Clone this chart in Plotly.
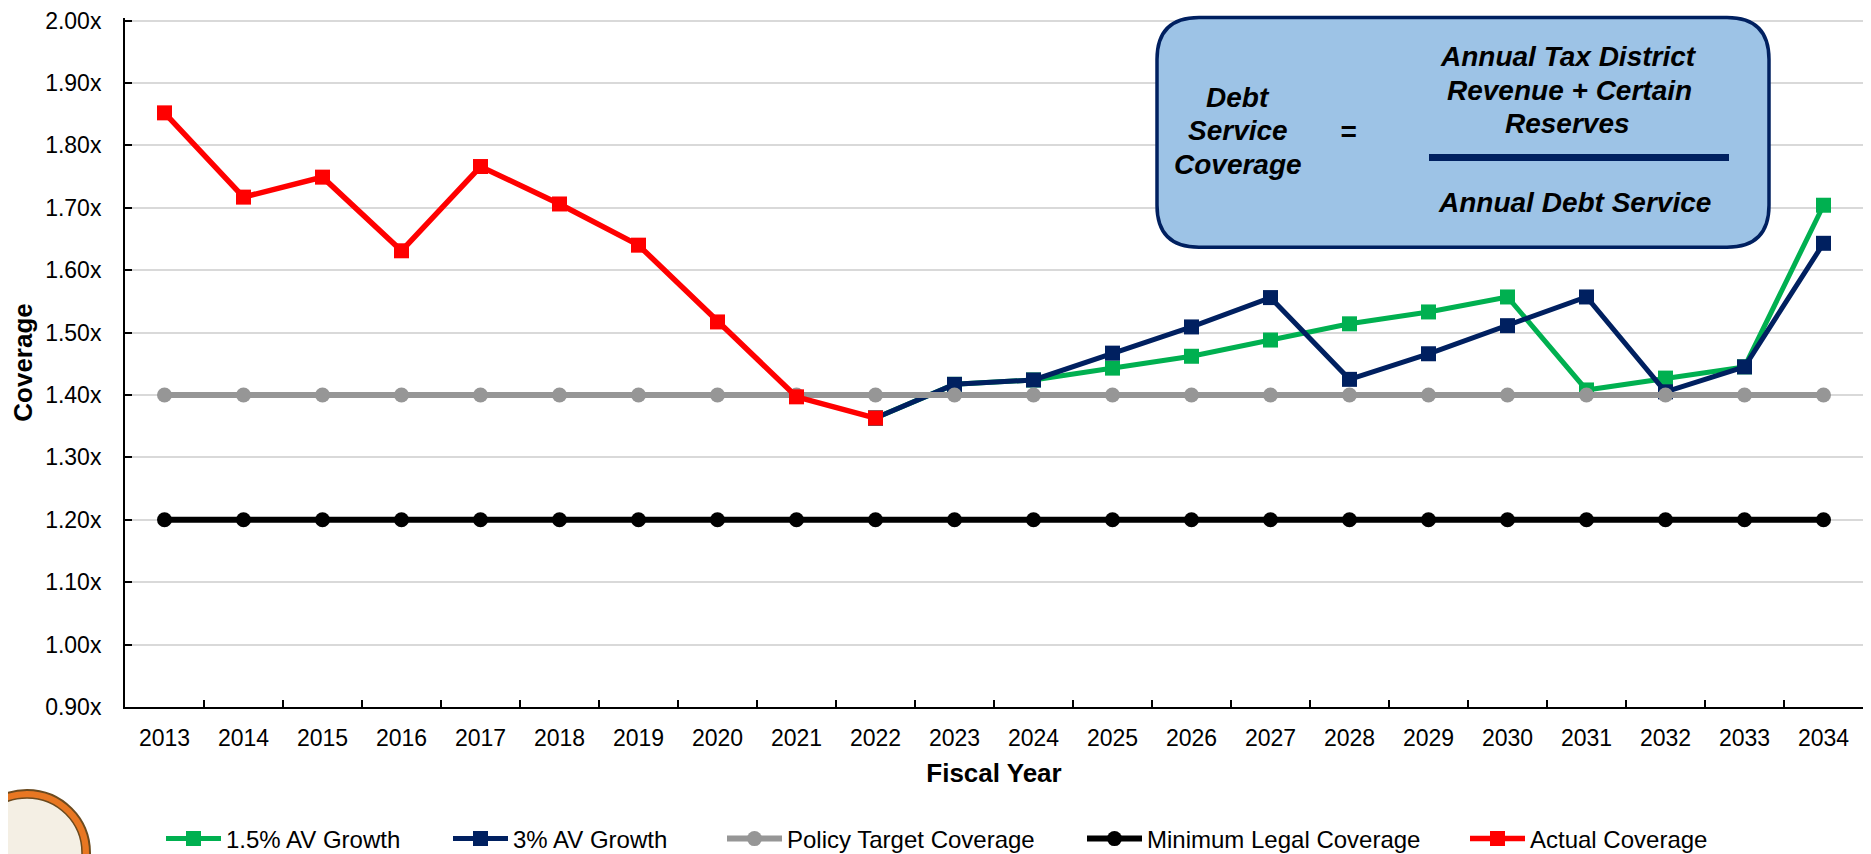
import plotly.graph_objects as go

years = ["2013", "2014", "2015", "2016", "2017", "2018", "2019", "2020", "2021", "2022", "2023",
         "2024", "2025", "2026", "2027", "2028", "2029", "2030", "2031", "2032", "2033", "2034"]

growth_15 = [None, None, None, None, None, None, None, None, None,
             1.363, 1.417, 1.424, 1.443, 1.462, 1.488, 1.514, 1.533, 1.557, 1.408, 1.427, 1.445, 1.704]
growth_3 = [None, None, None, None, None, None, None, None, None,
            1.363, 1.417, 1.424, 1.467, 1.509, 1.556, 1.425, 1.466, 1.511, 1.557, 1.405, 1.445, 1.643]
policy_target = [1.40, 1.40, 1.40, 1.40, 1.40, 1.40, 1.40, 1.40, 1.40, 1.40, 1.40,
                 1.40, 1.40, 1.40, 1.40, 1.40, 1.40, 1.40, 1.40, 1.40, 1.40, 1.40]
minimum_legal = [1.20, 1.20, 1.20, 1.20, 1.20, 1.20, 1.20, 1.20, 1.20, 1.20, 1.20,
                 1.20, 1.20, 1.20, 1.20, 1.20, 1.20, 1.20, 1.20, 1.20, 1.20, 1.20]
actual = [1.852, 1.717, 1.749, 1.631, 1.766, 1.706, 1.640, 1.517, 1.397, 1.363,
          None, None, None, None, None, None, None, None, None, None, None, None]

y_ticks = [0.9, 1.0, 1.1, 1.2, 1.3, 1.4, 1.5, 1.6, 1.7, 1.8, 1.9, 2.0]
y_ticktext = ["0.90x", "1.00x", "1.10x", "1.20x", "1.30x", "1.40x",
              "1.50x", "1.60x", "1.70x", "1.80x", "1.90x", "2.00x"]

FONT = "Liberation Sans, Arial, sans-serif"

# the page body has an 8px margin, so the figure is made 8px smaller and
# everything below is laid out in screen pixels of the 1871x854 window
PAGE = 8
WIDTH, HEIGHT = 1871 - PAGE, 854 - PAGE
# y range runs a hair past 2.0 so plotly keeps the top gridline
Y_MAX = 2.004
PLOT_L, PLOT_R, PLOT_T, PLOT_B = 125, 1863, 17.5, 707


def px(x):
    return (x - PLOT_L) / (PLOT_R - PLOT_L)


def py(y):
    return (PLOT_B - y) / (PLOT_B - PLOT_T)


series = [
    ("1.5% AV Growth", growth_15, "#00B050", "square", 5, "legend2", 167),
    ("3% AV Growth", growth_3, "#002060", "square", 5, "legend3", 454),
    ("Policy Target Coverage", policy_target, "#969696", "circle", 6, "legend4", 728),
    ("Minimum Legal Coverage", minimum_legal, "#000000", "circle", 6, "legend5", 1088),
    ("Actual Coverage", actual, "#FF0000", "square", 5.5, "legend6", 1471),
]

fig = go.Figure()
for name, vals, color, sym, lw, leg, _ in series:
    fig.add_trace(go.Scatter(
        x=years, y=vals, name=name, mode="lines+markers",
        line=dict(color=color, width=lw),
        marker=dict(symbol=sym, size=15, color=color),
        legend=leg, hoverinfo="skip",
    ))

# one small legend per series so each entry sits where it does in the original
legends = {}
for name, vals, color, sym, lw, leg, xpos in series:
    legends[leg] = dict(
        x=(xpos - 6 - PAGE) / WIDTH, y=1 - (839 - PAGE) / HEIGHT,
        xref="container", yref="container",
        xanchor="left", yanchor="middle",
        orientation="h", itemwidth=55, bgcolor="rgba(0,0,0,0)",
        font=dict(family=FONT, size=24, color="#000000"),
    )

shapes = []
# rounded formula box
x0, x1, y0, y1 = px(1157), px(1769), py(247), py(17)
rx, ry = 42 / (PLOT_R - PLOT_L), 42 / (PLOT_B - PLOT_T)
path = (f"M{x0 + rx},{y1} L{x1 - rx},{y1} Q{x1},{y1} {x1},{y1 - ry} "
        f"L{x1},{y0 + ry} Q{x1},{y0} {x1 - rx},{y0} L{x0 + rx},{y0} "
        f"Q{x0},{y0} {x0},{y0 + ry} L{x0},{y1 - ry} Q{x0},{y1} {x0 + rx},{y1} Z")
shapes.append(dict(type="path", path=path, xref="paper", yref="paper",
                   fillcolor="#9DC3E6", line=dict(color="#002060", width=3.5)))
shapes.append(dict(type="line", xref="paper", yref="paper",
                   x0=px(1429), x1=px(1729), y0=py(157), y1=py(157),
                   line=dict(color="#002060", width=7)))
# seal (approximation)
shapes.append(dict(type="circle", xref="paper", yref="paper",
                   x0=px(-36), x1=px(90), y0=py(916), y1=py(790),
                   fillcolor="#E87722", line=dict(color="#6b4a1e", width=2)))
shapes.append(dict(type="circle", xref="paper", yref="paper",
                   x0=px(-28), x1=px(82), y0=py(908), y1=py(798),
                   fillcolor="#f4efe4", line=dict(color="#6b4a1e", width=1.5)))

box_font = dict(family=FONT, size=28, color="#000000")
box_text = [
    ("Debt", 1238, 97), ("Service", 1238, 130), ("Coverage", 1238, 164),
    ("=", 1348, 131),
    ("Annual Tax District", 1568, 56), ("Revenue + Certain", 1569, 90),
    ("Reserves", 1567, 123), ("Annual Debt Service", 1574, 202),
]
annotations = []
for txt, x, y in box_text:
    annotations.append(dict(text=f"<b><i>{txt}</i></b>", x=px(x), y=py(y), xref="paper", yref="paper",
                            showarrow=False, xanchor="center", yanchor="middle", font=box_font))

fig.update_layout(
    width=WIDTH, height=HEIGHT,
    margin=dict(l=PLOT_L - PAGE, r=1871 - PLOT_R, t=PLOT_T - PAGE, b=854 - PLOT_B, autoexpand=False),
    paper_bgcolor="white", plot_bgcolor="white",
    font=dict(family=FONT, size=23, color="#000000"),
    shapes=shapes, annotations=annotations,
    hovermode=False,
    **legends,
)
fig.update_xaxes(
    type="category", range=[-0.5, 21.5], tickson="boundaries",
    ticks="inside", ticklen=7, tickwidth=2, tickcolor="#000000",
    showline=True, linecolor="#000000", linewidth=2, automargin=False,
    showgrid=False, tickfont=dict(size=23), ticklabelstandoff=9,
    title=dict(text="<b>Fiscal Year</b>", font=dict(size=26), standoff=14),
)
fig.update_yaxes(
    range=[0.9, Y_MAX], tickmode="array", tickvals=y_ticks, ticktext=y_ticktext,
    ticks="inside", ticklen=7, tickwidth=2, tickcolor="#000000",
    showline=True, linecolor="#000000", linewidth=2, automargin=False,
    showgrid=True, gridcolor="#d9d9d9", gridwidth=1.5, zeroline=False,
    tickfont=dict(size=23), ticklabelstandoff=17, ticklabeloverflow="allow",
    title=dict(text="<b>Coverage</b>", font=dict(size=26), standoff=8),
)

fig.write_html("out.html")
